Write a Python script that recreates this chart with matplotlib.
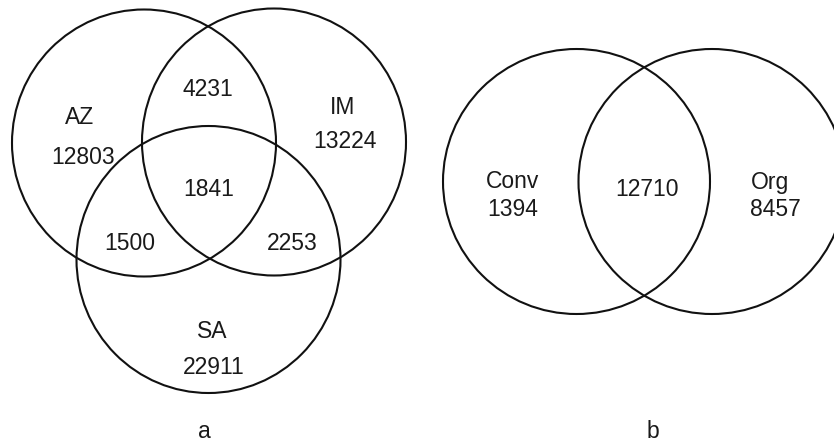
import matplotlib
matplotlib.use("Agg")
import matplotlib.pyplot as plt
from matplotlib.patches import Ellipse

# Three-way overlap (panel a)
sets_a = ["AZ", "IM", "SA"]
only_a = [12803, 13224, 22911]          # AZ only, IM only, SA only
az_im, az_sa, im_sa = 4231, 1500, 2253  # pairwise overlaps
all_three = 1841

# Two-way overlap (panel b)
sets_b = ["Conv", "Org"]
only_b = [1394, 8457]
conv_org = 12710

panel_labels = ["a", "b"]

plt.rcParams["font.family"] = ["Liberation Sans", "DejaVu Sans"]

fig = plt.figure(figsize=(8.34, 4.45), dpi=100)
ax = fig.add_axes([0, 0, 1, 1])
ax.set_xlim(0, 834)
ax.set_ylim(445, 0)
ax.axis("off")

lw = 1.5
fs = 16.5
tc = "#1a1a1a"

def circle(cx, cy, w=264, h=267):
    ax.add_patch(Ellipse((cx, cy), w, h, fill=False, edgecolor="#111111", lw=lw))

def label(x, y, s):
    ax.text(x, y, s, ha="center", va="center", fontsize=fs, color=tc)

# panel a circles
circle(144, 143)
circle(274, 142)
circle(208.5, 259.5)

label(80, 118, sets_a[0])
label(83, 157, f"{only_a[0]}")
label(343, 107, sets_a[1])
label(345, 142, f"{only_a[1]}")
label(212, 332, sets_a[2])
label(214, 367, f"{only_a[2]}")
label(208, 89, f"{az_im}")
label(130, 244, f"{az_sa}")
label(292, 244, f"{im_sa}")
label(209, 190, f"{all_three}")

# panel b circles
circle(576.5, 181.5, 267, 265)
circle(712, 181.5, 267, 265)

label(513, 182, sets_b[0])
label(513, 210, f"{only_b[0]}")
label(770, 182, sets_b[1])
label(775, 210, f"{only_b[1]}")
label(647, 189, f"{conv_org}")

label(204, 432, panel_labels[0])
label(653, 432, panel_labels[1])

fig.savefig("out.png", dpi=100, facecolor="white")
